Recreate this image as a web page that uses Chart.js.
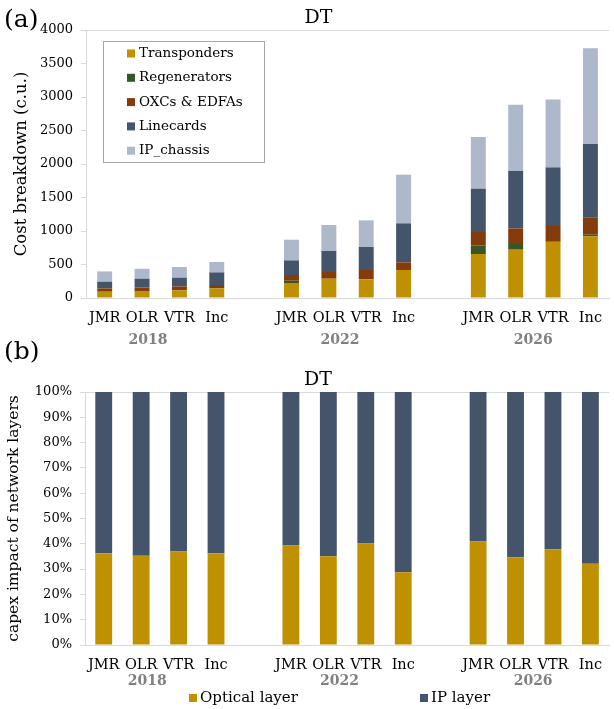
<!DOCTYPE html>
<html>
<head>
<meta charset="utf-8">
<script src="https://cdn.jsdelivr.net/npm/chart.js@4.4.1/dist/chart.umd.min.js"></script>
<style>
  body { margin: 0; background: #fff; width: 614px; height: 709px; position: relative; overflow: hidden; font-family: 'DejaVu Serif', serif; }
  #wrapA { position: absolute; left: 0; top: 0; width: 614px; height: 350px; }
  #wrapB { position: absolute; left: 0; top: 330px; width: 614px; height: 379px; }
  .tag { position: absolute; left: 4px; font-size: 25px; line-height: 30px; color: #000; }
</style>
</head>
<body>
<div id="wrapA"><canvas id="costChart" width="614" height="350"></canvas></div>
<div id="wrapB"><canvas id="shareChart" width="614" height="379"></canvas></div>
<div class="tag" style="top:4px">(a)</div>
<div class="tag" style="top:336px">(b)</div>
<script>
// architectures per year, with an empty slot between the year groups
const categories = ['JMR', 'OLR', 'VTR', 'Inc', '', 'JMR', 'OLR', 'VTR', 'Inc', '', 'JMR', 'OLR', 'VTR', 'Inc'];
const years = ['2018', '2022', '2026'];

// cost breakdown (c.u.)
const transponders = [94, 104, 114, 143, null, 224, 288, 278, 418, null, 657, 721, 836, 920];
const regenerators = [0, 0, 0, 0, null, 34, 0, 0, 0, null, 124, 85, 9, 25];
const oxcsEdfas = [49, 54, 59, 51, null, 85, 100, 140, 114, null, 204, 233, 230, 258];
const linecards = [100, 130, 130, 188, null, 218, 314, 343, 582, null, 647, 857, 875, 1096];
const ipChassis = [154, 149, 160, 155, null, 309, 388, 398, 727, null, 771, 990, 1011, 1428];

// capex share per network layer (%)
const opticalShare = [36.3, 35.3, 37.0, 36.3, null, 39.3, 35.1, 40.1, 28.8, null, 40.9, 34.7, 37.8, 32.1];
const ipShare = [63.7, 64.7, 63.0, 63.7, null, 60.7, 64.9, 59.9, 71.2, null, 59.1, 65.3, 62.2, 67.9];

const FONT = "'DejaVu Serif', serif";
const AXIS_GREY = '#d9d9d9';

// year captions under each group (fractional category index)
const yearAnchors = [1.16, 6.3, 11.47];

const yearLabels = {
  id: 'yearLabels',
  afterDraw(chart, args, opts) {
    const { ctx } = chart;
    const x = chart.scales.x;
    ctx.save();
    ctx.font = 'bold 14px ' + FONT;
    ctx.fillStyle = '#808080';
    ctx.textAlign = 'center';
    ctx.textBaseline = 'middle';
    years.forEach((y, i) => ctx.fillText(y, x.getPixelForValue(yearAnchors[i]), opts.y));
    ctx.restore();
  }
};

const panelTitle = {
  id: 'panelTitle',
  afterDraw(chart, args, opts) {
    const { ctx, chartArea } = chart;
    ctx.save();
    ctx.font = '19px ' + FONT;
    ctx.fillStyle = '#000';
    ctx.textAlign = 'center';
    ctx.textBaseline = 'middle';
    ctx.fillText(opts.text, (chartArea.left + chartArea.right) / 2 - 29, opts.y);
    ctx.restore();
  }
};

// boxed legend inside the cost plot
const boxLegend = {
  id: 'boxLegend',
  afterDraw(chart) {
    const { ctx } = chart;
    ctx.save();
    ctx.fillStyle = '#fff';
    ctx.fillRect(103.5, 41.5, 161, 121);
    ctx.strokeStyle = '#a6a6a6';
    ctx.lineWidth = 1;
    ctx.strokeRect(103.5, 41.5, 161, 121);
    ctx.font = '13.5px ' + FONT;
    ctx.textBaseline = 'middle';
    chart.data.datasets.forEach((ds, i) => {
      const y = 53.5 + i * 24.3;
      ctx.fillStyle = ds.backgroundColor;
      ctx.fillRect(127, y - 4, 8, 8);
      ctx.fillStyle = '#000';
      ctx.fillText(ds.label, 139, y);
    });
    ctx.restore();
  }
};

const rowLegend = {
  id: 'rowLegend',
  afterDraw(chart, args, opts) {
    const { ctx } = chart;
    ctx.save();
    ctx.font = '15px ' + FONT;
    ctx.textBaseline = 'middle';
    chart.data.datasets.forEach((ds, i) => {
      const x = opts.xs[i];
      ctx.fillStyle = ds.backgroundColor;
      ctx.fillRect(x, opts.y - 4, 8, 8);
      ctx.fillStyle = '#000';
      ctx.fillText(ds.label, x + 11, opts.y);
    });
    ctx.restore();
  }
};

function xScale(height) {
  return {
    stacked: true,
    grid: { display: true, drawOnChartArea: false, drawTicks: false },
    border: { color: AXIS_GREY },
    ticks: { font: { family: FONT, size: 14.5 }, color: '#000', padding: 12, maxRotation: 0, autoSkip: false },
    afterFit: s => { s.height = height; }
  };
}

function yScale(width, max, step, titleText, titleSize, titlePad, fmt) {
  return {
    stacked: true,
    min: 0,
    max: max,
    ticks: { stepSize: step, font: { family: FONT, size: 13 }, color: '#000', padding: 8, callback: fmt },
    grid: {
      drawTicks: true,
      tickLength: 5,
      tickColor: AXIS_GREY,
      color: c => (c.tick && c.tick.value === max ? AXIS_GREY : 'rgba(0,0,0,0)')
    },
    border: { color: AXIS_GREY },
    title: { display: true, text: titleText, color: '#000', font: { family: FONT, size: titleSize }, padding: { top: titlePad, bottom: 0 } },
    afterFit: s => { s.width = width; }
  };
}

new Chart(document.getElementById('costChart'), {
  type: 'bar',
  data: {
    labels: categories,
    datasets: [
      { label: 'Transponders', data: transponders, backgroundColor: '#bf9000' },
      { label: 'Regenerators', data: regenerators, backgroundColor: '#375623' },
      { label: 'OXCs & EDFAs', data: oxcsEdfas, backgroundColor: '#843c0c' },
      { label: 'Linecards', data: linecards, backgroundColor: '#44546a' },
      { label: 'IP_chassis', data: ipChassis, backgroundColor: '#adb9ca' }
    ]
  },
  options: {
    responsive: false,
    animation: false,
    layout: { padding: { top: 30, left: 0, right: 0, bottom: 0 } },
    datasets: { bar: { categoryPercentage: 1, barPercentage: 0.4 } },
    scales: {
      x: xScale(52),
      y: yScale(86, 4000, 500, 'Cost breakdown (c.u.)', 16.5, 12, v => v)
    },
    plugins: {
      legend: { display: false },
      tooltip: { enabled: false },
      yearLabels: { y: 340 },
      panelTitle: { text: 'DT', y: 18 }
    }
  },
  plugins: [yearLabels, panelTitle, boxLegend]
});

new Chart(document.getElementById('shareChart'), {
  type: 'bar',
  data: {
    labels: categories,
    datasets: [
      { label: 'Optical layer', data: opticalShare, backgroundColor: '#bf9000' },
      { label: 'IP layer', data: ipShare, backgroundColor: '#44546a' }
    ]
  },
  options: {
    responsive: false,
    animation: false,
    layout: { padding: { top: 62, left: 0, right: 0, bottom: 0 } },
    datasets: { bar: { categoryPercentage: 1, barPercentage: 0.45 } },
    scales: {
      x: xScale(64),
      y: yScale(85, 100, 10, 'capex impact of network layers', 15.5, 5, v => v + '%')
    },
    plugins: {
      legend: { display: false },
      tooltip: { enabled: false },
      yearLabels: { y: 351 },
      panelTitle: { text: 'DT', y: 50 },
      rowLegend: { xs: [189, 420], y: 368 }
    }
  },
  plugins: [yearLabels, panelTitle, rowLegend]
});
</script>
</body>
</html>
